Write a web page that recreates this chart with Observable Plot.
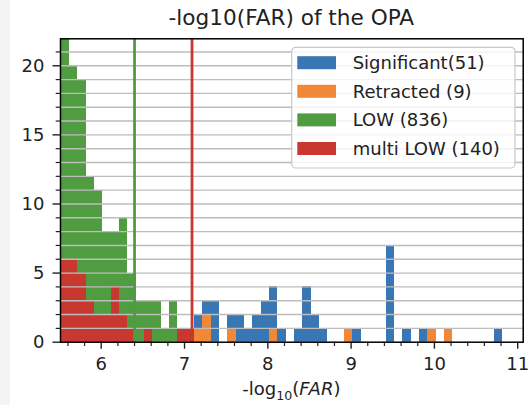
<!DOCTYPE html>
<html>
<head>
<meta charset="utf-8">
<script src="https://cdn.jsdelivr.net/npm/d3@7"></script>
<script src="https://cdn.jsdelivr.net/npm/@observablehq/plot@0.6"></script>
<style>
  body { margin: 0; background: #fff; font-family: "DejaVu Sans", sans-serif; }
  #wrap { position: relative; width: 529px; height: 405px; overflow: hidden; }
  #stripe { position: absolute; left: 0; top: 0; width: 10px; height: 405px; background: #f4f4f4; }
  #wrap svg { position: absolute; left: 0; top: 0; display: block; }
</style>
</head>
<body>
<div id="wrap"><div id="stripe"></div></div>
<script>
// ---- data ----
const title = "-log10(FAR) of the OPA";
const seriesNames = ["Significant(51)", "Retracted (9)", "LOW (836)", "multi LOW (140)"];
const seriesColors = ["#3876b4", "#f08838", "#509c40", "#c83830"];
const binWidth = 0.1;

// bin left edges and counts per series
const sigX = [7.12, 7.22, 7.32, 7.52, 7.62, 7.72, 7.82, 7.92, 8.02, 8.12, 8.32, 8.42, 8.52, 8.62, 9.02, 9.42, 9.62, 9.82, 10.72];
const sigN = [2, 3, 3, 2, 2, 1, 2, 3, 4, 1, 1, 4, 2, 1, 1, 7, 1, 1, 1];
const retX = [7.12, 7.22, 7.52, 8.02, 8.92, 9.92, 10.12];
const retN = [1, 2, 1, 1, 1, 1, 1];
const lowX = [5.52, 5.62, 5.72, 5.82, 5.92, 6.02, 6.12, 6.22, 6.32, 6.42, 6.52, 6.62, 6.72, 6.82];
const lowN = [22, 20, 19, 12, 11, 8, 8, 9, 5, 3, 3, 3, 1, 3];
const multiX = [5.52, 5.62, 5.72, 5.82, 5.92, 6.02, 6.12, 6.22, 6.32, 6.52, 6.92, 7.02];
const multiN = [6, 6, 5, 3, 2, 2, 4, 2, 1, 1, 1, 1];

// threshold lines
const lowCut = 6.40;
const multiCut = 7.09;

// ticks
const xMajor = [6, 7, 8, 9, 10, 11];
const xMinor = d3.range(5.6, 11.05, 0.2).map(v => +v.toFixed(1)).filter(v => !xMajor.includes(v));
const yMajor = [0, 5, 10, 15, 20];
const yMinor = d3.range(0, 22).filter(v => !yMajor.includes(v));
const yGrid = d3.range(1, 22);

// ---- layout ----
const W = 529, H = 405;
const mL = 60, mR = 6.3, mT = 38.3, mB = 63.3;

const rows = (xs, ns) => xs.map((x, i) => ({x1: x, x2: x + binWidth, n: ns[i]}));
const bars = (xs, ns, color) => Plot.rect(rows(xs, ns), {
  x1: "x1", x2: "x2", y1: d => 0, y2: "n", fill: color, shapeRendering: "crispEdges", clip: true
});

const chart = Plot.plot({
  width: W, height: H,
  marginLeft: mL, marginRight: mR, marginTop: mT, marginBottom: mB,
  style: {fontFamily: "DejaVu Sans", fontSize: "18px", color: "#222", background: "transparent", overflow: "visible"},
  x: {domain: [5.511, 11.066]},
  y: {domain: [0, 21.95]},
  marks: [
    bars(sigX, sigN, seriesColors[0]),
    bars(retX, retN, seriesColors[1]),
    bars(lowX, lowN, seriesColors[2]),
    bars(multiX, multiN, seriesColors[3]),
    Plot.ruleY(yGrid, {stroke: "#bdbdbd", strokeWidth: 1.4}),
    Plot.ruleX([lowCut], {stroke: seriesColors[2], strokeWidth: 2.8}),
    Plot.ruleX([multiCut], {stroke: seriesColors[3], strokeWidth: 2.8}),
    Plot.axisX({ticks: xMajor, tickSize: 7, tickPadding: 8, strokeWidth: 1.4, label: null, tickFormat: d => String(d), fill: "#222"}),
    Plot.axisX({ticks: xMinor, tickSize: 4.3, strokeWidth: 1.2, label: null, tickFormat: () => ""}),
    Plot.axisY({ticks: yMajor, tickSize: 7.5, tickPadding: 8.5, strokeWidth: 1.4, label: null, tickFormat: d => String(d), fill: "#222"}),
    Plot.axisY({ticks: yMinor, tickSize: 4.3, strokeWidth: 1.2, label: null, tickFormat: () => ""}),
    Plot.frame({stroke: "#000", strokeWidth: 1.5})
  ]
});
document.getElementById("wrap").appendChild(chart);

const svg = d3.select(chart);
const cx = mL + (W - mL - mR) / 2;

// title
svg.append("text")
  .attr("x", cx).attr("y", 25)
  .attr("text-anchor", "middle")
  .attr("font-family", "DejaVu Sans").attr("font-size", 21.6).attr("fill", "#222")
  .text(title);

// x label: -log10(FAR) with subscript and italic
const xl = svg.append("text")
  .attr("x", cx).attr("y", 395)
  .attr("text-anchor", "middle")
  .attr("font-family", "DejaVu Sans").attr("font-size", 18).attr("fill", "#222");
xl.append("tspan").text("-log");
xl.append("tspan").attr("font-size", 12.6).attr("dy", 4.5).text("10");
xl.append("tspan").attr("dy", -4.5).text("(");
xl.append("tspan").attr("font-style", "italic").text("FAR");
xl.append("tspan").text(")");

// legend
const lg = svg.append("g").attr("text-anchor", "start");
lg.append("rect")
  .attr("x", 291.7).attr("y", 47.3).attr("width", 223.3).attr("height", 120.7)
  .attr("rx", 4).attr("ry", 4)
  .style("fill", "#ffffff").style("fill-opacity", 0.82)
  .style("stroke", "#c8c8c8").style("stroke-width", 1.2);
seriesNames.forEach((name, i) => {
  const yc = 62.7 + i * 28.6;
  lg.append("rect").attr("x", 297.3).attr("y", yc - 6.5).attr("width", 38.7).attr("height", 13)
    .style("fill", seriesColors[i]);
  lg.append("text").attr("x", 352.7).attr("y", yc + 6.5)
    .attr("text-anchor", "start")
    .attr("font-family", "DejaVu Sans").attr("font-size", 18).attr("fill", "#222")
    .text(name);
});
</script>
</body>
</html>
